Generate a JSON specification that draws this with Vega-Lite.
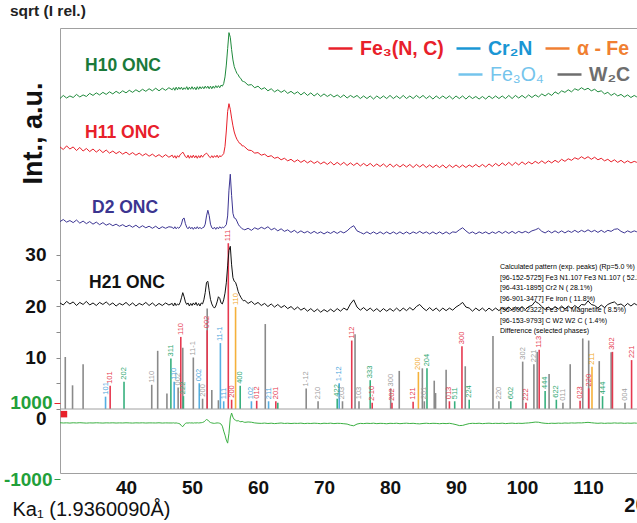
{
  "$schema": "https://vega.github.io/schema/vega-lite/v6.json",
  "width": 577,
  "height": 445,
  "autosize": "none",
  "padding": {"left": 60, "top": 28, "right": 0, "bottom": 50},
  "background": "white",
  "title": {"text": "sqrt (I rel.)", "anchor": "start", "frame": "group", "dx": -50, "offset": 9, "fontSize": 15.5, "fontWeight": "bold", "font": "Liberation Sans", "color": "#222222"},
  "config": {"view": {"stroke": "#a0a0a0", "strokeWidth": 1}, "font": "Liberation Sans"},
  "datasets": {
    "scans": [
      {"t":30,"g":60.3,"r":50.9,"p":36.4,"k":20.6,"d":475},
      {"t":30.5,"g":60.9,"r":50.4,"p":36.8,"k":20.2,"d":468},
      {"t":31,"g":60.4,"r":51.1,"p":36.3,"k":20.9,"d":472},
      {"t":31.5,"g":60.8,"r":50.5,"p":36.6,"k":20.4,"d":466},
      {"t":32,"g":60.5,"r":50.9,"p":36.2,"k":20.8,"d":474},
      {"t":32.5,"g":61.1,"r":50.2,"p":36.7,"k":20.1,"d":469},
      {"t":33,"g":60.6,"r":50.8,"p":36.1,"k":20.7,"d":476},
      {"t":33.5,"g":61.0,"r":50.1,"p":36.5,"k":20.3,"d":470},
      {"t":34,"g":60.7,"r":50.6,"p":36.0,"k":20.9,"d":465},
      {"t":34.5,"g":61.3,"r":50.0,"p":36.4,"k":20.2,"d":471},
      {"t":35,"g":60.9,"r":50.5,"p":35.9,"k":20.6,"d":468},
      {"t":35.5,"g":61.4,"r":49.9,"p":36.3,"k":20.1,"d":474},
      {"t":36,"g":61.0,"r":50.4,"p":35.8,"k":20.7,"d":470},
      {"t":36.5,"g":61.5,"r":49.8,"p":36.2,"k":20.3,"d":466},
      {"t":37,"g":61.1,"r":50.3,"p":35.7,"k":20.8,"d":472},
      {"t":37.5,"g":61.6,"r":49.7,"p":36.0,"k":20.2,"d":469},
      {"t":38,"g":61.2,"r":50.1,"p":35.6,"k":20.6,"d":473},
      {"t":38.5,"g":61.7,"r":49.6,"p":35.9,"k":20.0,"d":467},
      {"t":39,"g":61.3,"r":50.0,"p":35.5,"k":20.5,"d":471},
      {"t":39.5,"g":61.8,"r":49.5,"p":35.8,"k":20.2,"d":468},
      {"t":40,"g":61.4,"r":49.9,"p":35.4,"k":20.7,"d":474},
      {"t":40.5,"g":61.9,"r":49.4,"p":35.7,"k":20.1,"d":470},
      {"t":41,"g":61.5,"r":49.8,"p":35.3,"k":20.6,"d":466},
      {"t":41.5,"g":62.0,"r":49.3,"p":35.7,"k":20.0,"d":472},
      {"t":42,"g":61.6,"r":49.7,"p":35.2,"k":20.5,"d":469},
      {"t":42.5,"g":62.1,"r":49.2,"p":35.6,"k":20.2,"d":473},
      {"t":43,"g":61.7,"r":49.6,"p":35.2,"k":20.7,"d":467},
      {"t":43.5,"g":62.2,"r":49.1,"p":35.5,"k":20.1,"d":471},
      {"t":44,"g":61.8,"r":49.5,"p":35.1,"k":20.6,"d":470},
      {"t":44.5,"g":62.3,"r":49.0,"p":35.5,"k":20.0,"d":468},
      {"t":45,"g":61.8,"r":49.4,"p":35.0,"k":20.5,"d":474},
      {"t":45.5,"g":62.3,"r":48.9,"p":35.4,"k":20.1,"d":466},
      {"t":46,"g":61.9,"r":49.4,"p":35.1,"k":20.6,"d":471},
      {"t":46.5,"g":62.4,"r":48.9,"p":35.4,"k":20.2,"d":469},
      {"t":47,"g":62.0,"r":49.3,"p":35.3,"k":20.5,"d":468},
      {"t":47.2,"g":62.4,"r":48.8,"p":35.0,"k":20.0,"d":472},
      {"t":47.4,"g":61.9,"r":49.2,"p":35.4,"k":20.6,"d":465},
      {"t":47.6,"g":62.5,"r":48.7,"p":35.0,"k":20.1,"d":470},
      {"t":47.8,"g":62.0,"r":49.2,"p":35.3,"k":20.4,"d":462},
      {"t":48,"g":62.5,"r":48.9,"p":35.1,"k":20.2,"d":455},
      {"t":48.2,"g":62.1,"r":49.4,"p":35.4,"k":20.7,"d":440},
      {"t":48.4,"g":62.5,"r":49.6,"p":35.9,"k":21.6,"d":395},
      {"t":48.6,"g":62.0,"r":49.9,"p":36.9,"k":22.6,"d":372},
      {"t":48.8,"g":62.4,"r":49.5,"p":37.1,"k":21.8,"d":418},
      {"t":49,"g":62.1,"r":49.0,"p":36.0,"k":20.8,"d":458},
      {"t":49.2,"g":62.6,"r":48.8,"p":35.3,"k":20.3,"d":470},
      {"t":49.4,"g":62.0,"r":49.3,"p":35.0,"k":20.6,"d":466},
      {"t":49.6,"g":62.5,"r":48.7,"p":35.4,"k":20.0,"d":473},
      {"t":49.8,"g":62.1,"r":49.2,"p":35.0,"k":20.5,"d":468},
      {"t":50,"g":62.6,"r":48.8,"p":35.3,"k":20.1,"d":471},
      {"t":50.2,"g":62.1,"r":49.3,"p":34.9,"k":20.6,"d":465},
      {"t":50.4,"g":62.5,"r":48.8,"p":35.3,"k":20.2,"d":472},
      {"t":50.6,"g":62.0,"r":49.2,"p":35.0,"k":20.7,"d":468},
      {"t":50.8,"g":62.6,"r":48.7,"p":35.4,"k":20.1,"d":474},
      {"t":51,"g":62.1,"r":49.2,"p":35.0,"k":20.5,"d":469},
      {"t":51.2,"g":62.6,"r":48.8,"p":35.3,"k":20.0,"d":472},
      {"t":51.4,"g":62.2,"r":49.3,"p":35.0,"k":20.6,"d":476},
      {"t":51.6,"g":62.6,"r":48.9,"p":35.2,"k":20.4,"d":482},
      {"t":51.8,"g":62.2,"r":49.3,"p":35.3,"k":21.2,"d":495},
      {"t":52,"g":62.7,"r":49.5,"p":35.9,"k":22.6,"d":530},
      {"t":52.2,"g":62.3,"r":49.7,"p":37.5,"k":24.6,"d":560},
      {"t":52.4,"g":62.7,"r":49.4,"p":38.6,"k":24.8,"d":545},
      {"t":52.6,"g":62.2,"r":49.0,"p":37.6,"k":23.0,"d":505},
      {"t":52.8,"g":62.7,"r":48.8,"p":35.9,"k":21.3,"d":480},
      {"t":53,"g":62.2,"r":49.2,"p":35.2,"k":20.4,"d":470},
      {"t":53.2,"g":62.7,"r":48.8,"p":35.0,"k":19.9,"d":462},
      {"t":53.4,"g":62.3,"r":49.2,"p":35.3,"k":19.6,"d":458},
      {"t":53.6,"g":62.8,"r":48.9,"p":34.9,"k":20.0,"d":465},
      {"t":53.8,"g":62.4,"r":49.3,"p":35.3,"k":20.8,"d":470},
      {"t":54,"g":62.8,"r":48.8,"p":35.0,"k":21.8,"d":468},
      {"t":54.2,"g":62.4,"r":49.2,"p":35.4,"k":21.5,"d":460},
      {"t":54.4,"g":62.9,"r":49.0,"p":35.1,"k":20.6,"d":440},
      {"t":54.6,"g":62.7,"r":49.3,"p":35.3,"k":20.4,"d":385},
      {"t":54.8,"g":63.2,"r":49.6,"p":35.2,"k":21.2,"d":255},
      {"t":55,"g":64.5,"r":51.0,"p":35.5,"k":22.5,"d":150},
      {"t":55.2,"g":66.8,"r":54.0,"p":35.8,"k":24.5,"d":20},
      {"t":55.4,"g":70.0,"r":57.8,"p":37.5,"k":27.8,"d":-60},
      {"t":55.6,"g":73.1,"r":59.3,"p":42.5,"k":30.8,"d":200},
      {"t":55.8,"g":72.2,"r":58.2,"p":45.6,"k":31.6,"d":600},
      {"t":56,"g":69.8,"r":56.5,"p":41.5,"k":28.0,"d":730},
      {"t":56.2,"g":67.8,"r":55.0,"p":38.0,"k":25.5,"d":620},
      {"t":56.4,"g":66.5,"r":53.8,"p":37.1,"k":24.8,"d":560},
      {"t":56.6,"g":65.8,"r":53.0,"p":37.0,"k":24.6,"d":540},
      {"t":56.8,"g":65.2,"r":52.4,"p":36.5,"k":23.8,"d":520},
      {"t":57,"g":64.9,"r":52.0,"p":35.9,"k":22.8,"d":530},
      {"t":57.2,"g":64.4,"r":51.6,"p":35.5,"k":22.2,"d":510},
      {"t":57.4,"g":64.2,"r":51.5,"p":35.3,"k":21.7,"d":500},
      {"t":57.6,"g":63.7,"r":51.1,"p":35.0,"k":21.3,"d":510},
      {"t":57.8,"g":63.6,"r":51.1,"p":34.9,"k":21.0,"d":495},
      {"t":58,"g":63.5,"r":50.9,"p":34.8,"k":21.1,"d":485},
      {"t":58.5,"g":62.9,"r":50.3,"p":35.1,"k":20.5,"d":495},
      {"t":59,"g":63.0,"r":50.2,"p":34.7,"k":20.9,"d":488},
      {"t":59.5,"g":62.4,"r":49.7,"p":35.2,"k":20.3,"d":470},
      {"t":60,"g":62.7,"r":49.8,"p":34.9,"k":20.7,"d":462},
      {"t":60.5,"g":62.1,"r":49.3,"p":35.3,"k":20.1,"d":458},
      {"t":61,"g":62.4,"r":49.5,"p":35.0,"k":20.5,"d":466},
      {"t":61.5,"g":61.8,"r":49.0,"p":35.4,"k":19.9,"d":455},
      {"t":62,"g":62.2,"r":49.2,"p":34.8,"k":20.4,"d":463},
      {"t":62.5,"g":61.6,"r":48.7,"p":35.1,"k":19.8,"d":452},
      {"t":63,"g":62.0,"r":48.9,"p":34.6,"k":20.3,"d":460},
      {"t":63.5,"g":61.5,"r":48.4,"p":35.0,"k":19.7,"d":468},
      {"t":64,"g":61.9,"r":48.7,"p":34.5,"k":20.1,"d":456},
      {"t":64.5,"g":61.3,"r":48.2,"p":34.8,"k":19.5,"d":462},
      {"t":65,"g":61.7,"r":48.5,"p":34.3,"k":19.9,"d":454},
      {"t":65.5,"g":61.2,"r":48.0,"p":34.7,"k":19.3,"d":461},
      {"t":66,"g":61.6,"r":48.4,"p":34.2,"k":19.8,"d":457},
      {"t":66.5,"g":61.0,"r":47.9,"p":34.6,"k":19.2,"d":465},
      {"t":67,"g":61.5,"r":48.3,"p":34.2,"k":19.6,"d":452},
      {"t":67.5,"g":60.9,"r":47.8,"p":34.5,"k":19.0,"d":460},
      {"t":68,"g":61.4,"r":48.2,"p":34.1,"k":19.5,"d":455},
      {"t":68.5,"g":60.8,"r":47.7,"p":34.5,"k":18.9,"d":463},
      {"t":69,"g":61.3,"r":48.1,"p":34.1,"k":19.4,"d":458},
      {"t":69.5,"g":60.7,"r":47.6,"p":34.4,"k":18.8,"d":450},
      {"t":70,"g":61.2,"r":48.0,"p":34.0,"k":19.3,"d":462},
      {"t":70.5,"g":60.7,"r":47.5,"p":34.4,"k":18.9,"d":456},
      {"t":71,"g":61.1,"r":48.0,"p":34.1,"k":19.4,"d":464},
      {"t":71.5,"g":60.6,"r":47.4,"p":34.5,"k":18.9,"d":452},
      {"t":72,"g":61.0,"r":47.9,"p":34.1,"k":19.5,"d":460},
      {"t":72.5,"g":60.5,"r":47.4,"p":34.5,"k":19.0,"d":457},
      {"t":73,"g":61.0,"r":47.9,"p":34.2,"k":19.6,"d":449},
      {"t":73.5,"g":60.4,"r":47.3,"p":34.6,"k":19.2,"d":440},
      {"t":74,"g":60.9,"r":47.8,"p":35.2,"k":20.4,"d":410},
      {"t":74.5,"g":60.5,"r":47.3,"p":35.6,"k":21.2,"d":395},
      {"t":75,"g":60.9,"r":47.8,"p":34.6,"k":19.8,"d":440},
      {"t":75.5,"g":60.3,"r":47.2,"p":34.3,"k":19.2,"d":458},
      {"t":76,"g":60.8,"r":47.7,"p":34.0,"k":19.7,"d":452},
      {"t":76.5,"g":60.3,"r":47.2,"p":34.4,"k":19.1,"d":461},
      {"t":77,"g":60.8,"r":47.7,"p":34.0,"k":19.6,"d":455},
      {"t":77.5,"g":60.2,"r":47.1,"p":34.4,"k":19.0,"d":463},
      {"t":78,"g":60.8,"r":47.6,"p":34.0,"k":19.5,"d":451},
      {"t":78.5,"g":60.3,"r":47.1,"p":34.4,"k":18.9,"d":459},
      {"t":79,"g":60.8,"r":47.6,"p":34.0,"k":19.5,"d":456},
      {"t":79.5,"g":60.3,"r":47.0,"p":34.4,"k":19.0,"d":448},
      {"t":80,"g":60.9,"r":47.6,"p":34.0,"k":19.5,"d":460},
      {"t":80.5,"g":60.3,"r":47.0,"p":34.4,"k":19.0,"d":455},
      {"t":81,"g":60.8,"r":47.5,"p":34.0,"k":19.6,"d":462},
      {"t":81.5,"g":60.3,"r":47.0,"p":34.4,"k":19.0,"d":450},
      {"t":82,"g":60.9,"r":47.5,"p":34.0,"k":19.6,"d":458},
      {"t":82.5,"g":60.3,"r":47.0,"p":34.4,"k":19.1,"d":463},
      {"t":83,"g":60.8,"r":47.5,"p":34.0,"k":19.7,"d":454},
      {"t":83.5,"g":60.3,"r":46.9,"p":34.4,"k":19.2,"d":460},
      {"t":84,"g":60.9,"r":47.5,"p":34.1,"k":19.9,"d":450},
      {"t":84.5,"g":60.4,"r":47.0,"p":34.5,"k":20.3,"d":445},
      {"t":85,"g":60.9,"r":47.5,"p":34.1,"k":19.6,"d":456},
      {"t":85.5,"g":60.3,"r":46.9,"p":34.4,"k":19.1,"d":462},
      {"t":86,"g":60.8,"r":47.4,"p":34.0,"k":19.7,"d":453},
      {"t":86.5,"g":60.2,"r":46.9,"p":34.4,"k":19.1,"d":460},
      {"t":87,"g":60.8,"r":47.4,"p":34.0,"k":19.6,"d":457},
      {"t":87.5,"g":60.3,"r":46.9,"p":34.4,"k":19.0,"d":449},
      {"t":88,"g":60.8,"r":47.4,"p":34.0,"k":19.6,"d":458},
      {"t":88.5,"g":60.3,"r":46.8,"p":34.4,"k":19.1,"d":452},
      {"t":89,"g":60.8,"r":47.4,"p":34.0,"k":19.6,"d":460},
      {"t":89.5,"g":60.2,"r":46.9,"p":34.4,"k":19.2,"d":445},
      {"t":90,"g":60.8,"r":47.4,"p":34.3,"k":19.8,"d":425},
      {"t":90.5,"g":60.3,"r":46.9,"p":34.8,"k":20.2,"d":400},
      {"t":91,"g":60.8,"r":47.4,"p":35.2,"k":20.7,"d":405},
      {"t":91.5,"g":60.2,"r":46.9,"p":34.6,"k":19.8,"d":430},
      {"t":92,"g":60.8,"r":47.4,"p":34.1,"k":19.6,"d":452},
      {"t":92.5,"g":60.3,"r":47.0,"p":34.4,"k":19.0,"d":460},
      {"t":93,"g":60.7,"r":47.5,"p":34.0,"k":19.6,"d":455},
      {"t":93.5,"g":60.2,"r":47.0,"p":34.4,"k":19.1,"d":462},
      {"t":94,"g":60.7,"r":47.5,"p":34.1,"k":19.6,"d":451},
      {"t":94.5,"g":60.2,"r":47.0,"p":34.4,"k":19.0,"d":458},
      {"t":95,"g":60.8,"r":47.6,"p":34.0,"k":19.6,"d":463},
      {"t":95.5,"g":60.3,"r":47.1,"p":34.4,"k":19.1,"d":454},
      {"t":96,"g":60.8,"r":47.7,"p":34.1,"k":19.6,"d":460},
      {"t":96.5,"g":60.3,"r":47.2,"p":34.5,"k":19.1,"d":456},
      {"t":97,"g":60.8,"r":47.8,"p":34.1,"k":19.7,"d":463},
      {"t":97.5,"g":60.3,"r":47.3,"p":34.5,"k":19.2,"d":452},
      {"t":98,"g":60.9,"r":47.9,"p":34.1,"k":19.8,"d":459},
      {"t":98.5,"g":60.3,"r":47.3,"p":34.5,"k":19.2,"d":464},
      {"t":99,"g":60.9,"r":47.9,"p":34.1,"k":19.8,"d":455},
      {"t":99.5,"g":60.4,"r":47.4,"p":34.5,"k":19.3,"d":461},
      {"t":100,"g":60.9,"r":48.0,"p":34.2,"k":19.9,"d":457},
      {"t":100.5,"g":60.4,"r":47.5,"p":34.5,"k":19.3,"d":465},
      {"t":101,"g":61.0,"r":48.0,"p":34.2,"k":19.9,"d":470},
      {"t":101.5,"g":60.5,"r":47.6,"p":34.6,"k":20.1,"d":480},
      {"t":102,"g":61.0,"r":48.1,"p":34.8,"k":20.9,"d":492},
      {"t":102.5,"g":60.6,"r":47.7,"p":35.1,"k":20.5,"d":488},
      {"t":103,"g":61.2,"r":48.2,"p":34.5,"k":19.9,"d":470},
      {"t":103.5,"g":60.8,"r":47.7,"p":34.2,"k":19.3,"d":460},
      {"t":104,"g":61.3,"r":48.2,"p":34.6,"k":19.8,"d":455},
      {"t":104.5,"g":60.9,"r":47.8,"p":34.2,"k":19.3,"d":462},
      {"t":105,"g":61.6,"r":48.3,"p":34.6,"k":19.9,"d":458},
      {"t":105.5,"g":61.2,"r":47.9,"p":34.2,"k":19.4,"d":465},
      {"t":106,"g":61.8,"r":48.5,"p":34.6,"k":20.0,"d":460},
      {"t":106.5,"g":61.5,"r":48.1,"p":34.2,"k":19.4,"d":468},
      {"t":107,"g":62.0,"r":48.6,"p":34.6,"k":20.0,"d":463},
      {"t":107.5,"g":61.6,"r":48.3,"p":34.3,"k":19.5,"d":470},
      {"t":108,"g":62.2,"r":48.8,"p":34.7,"k":20.1,"d":466},
      {"t":108.5,"g":61.9,"r":48.5,"p":34.3,"k":19.6,"d":472},
      {"t":109,"g":62.4,"r":49.0,"p":34.7,"k":20.3,"d":470},
      {"t":109.5,"g":62.0,"r":48.6,"p":34.4,"k":20.2,"d":478},
      {"t":110,"g":62.3,"r":49.0,"p":34.8,"k":21.0,"d":485},
      {"t":110.5,"g":61.8,"r":48.5,"p":34.4,"k":20.3,"d":475},
      {"t":111,"g":62.1,"r":48.9,"p":34.7,"k":20.1,"d":466},
      {"t":111.5,"g":61.6,"r":48.4,"p":34.3,"k":19.6,"d":460},
      {"t":112,"g":61.8,"r":48.7,"p":34.7,"k":20.2,"d":467},
      {"t":112.5,"g":61.2,"r":48.2,"p":34.3,"k":19.7,"d":458},
      {"t":113,"g":61.5,"r":48.5,"p":34.7,"k":20.3,"d":465},
      {"t":113.5,"g":60.9,"r":48.0,"p":34.5,"k":20.6,"d":462},
      {"t":114,"g":61.3,"r":48.4,"p":34.9,"k":20.8,"d":470},
      {"t":114.5,"g":60.8,"r":47.9,"p":35.0,"k":20.2,"d":463},
      {"t":115,"g":61.1,"r":48.3,"p":34.5,"k":20.4,"d":468},
      {"t":115.5,"g":60.6,"r":47.8,"p":34.2,"k":19.9,"d":459},
      {"t":116,"g":61.0,"r":48.2,"p":34.6,"k":20.5,"d":466},
      {"t":116.5,"g":60.5,"r":47.8,"p":34.3,"k":20.0,"d":461},
      {"t":117,"g":60.9,"r":48.1,"p":34.6,"k":20.5,"d":468},
      {"t":117.4,"g":60.6,"r":47.9,"p":34.4,"k":20.2,"d":463}
    ],
    "sticks": [
      {"phase":"W2C","t":30.8,"h":10.1,"hkl":""},
      {"phase":"W2C","t":31.9,"h":4.6,"hkl":""},
      {"phase":"W2C","t":33.5,"h":8.7,"hkl":""},
      {"phase":"W2C","t":43.9,"h":4.7,"hkl":"110"},
      {"phase":"W2C","t":44.8,"h":11.3,"hkl":""},
      {"phase":"W2C","t":46.2,"h":3.0,"hkl":""},
      {"phase":"W2C","t":47.9,"h":4.2,"hkl":"002"},
      {"phase":"W2C","t":48.6,"h":11.9,"hkl":""},
      {"phase":"W2C","t":50.2,"h":10.0,"hkl":"11-1"},
      {"phase":"W2C","t":51.6,"h":2.0,"hkl":"200"},
      {"phase":"W2C","t":52.3,"h":19.5,"hkl":""},
      {"phase":"W2C","t":53.0,"h":3.7,"hkl":""},
      {"phase":"W2C","t":54.0,"h":1.7,"hkl":""},
      {"phase":"W2C","t":61.1,"h":16.5,"hkl":""},
      {"phase":"W2C","t":67.3,"h":4.0,"hkl":"1-12"},
      {"phase":"W2C","t":69.1,"h":1.5,"hkl":"210"},
      {"phase":"W2C","t":72.8,"h":1.5,"hkl":"203"},
      {"phase":"W2C","t":74.7,"h":14.5,"hkl":""},
      {"phase":"W2C","t":75.3,"h":1.5,"hkl":"103"},
      {"phase":"W2C","t":80.1,"h":4.0,"hkl":"300"},
      {"phase":"W2C","t":81.4,"h":7.4,"hkl":""},
      {"phase":"W2C","t":84.9,"h":7.9,"hkl":""},
      {"phase":"W2C","t":85.2,"h":1.5,"hkl":"201"},
      {"phase":"W2C","t":86.7,"h":5.5,"hkl":""},
      {"phase":"W2C","t":86.9,"h":3.1,"hkl":""},
      {"phase":"W2C","t":88.5,"h":7.6,"hkl":""},
      {"phase":"W2C","t":91.4,"h":8.3,"hkl":""},
      {"phase":"W2C","t":95.6,"h":14.2,"hkl":""},
      {"phase":"W2C","t":96.5,"h":1.5,"hkl":"220"},
      {"phase":"W2C","t":100.1,"h":9.2,"hkl":"302"},
      {"phase":"W2C","t":101.8,"h":8.7,"hkl":"221"},
      {"phase":"W2C","t":102.3,"h":11.1,"hkl":""},
      {"phase":"W2C","t":104.1,"h":6.8,"hkl":""},
      {"phase":"W2C","t":106.2,"h":1.2,"hkl":"011"},
      {"phase":"W2C","t":107.3,"h":8.7,"hkl":""},
      {"phase":"W2C","t":109.2,"h":13.7,"hkl":""},
      {"phase":"W2C","t":110.1,"h":13.3,"hkl":""},
      {"phase":"W2C","t":111.7,"h":9.3,"hkl":""},
      {"phase":"W2C","t":113.5,"h":11.0,"hkl":""},
      {"phase":"W2C","t":115.6,"h":1.2,"hkl":"004"},
      {"phase":"Fe3O4","t":39.7,"h":5.3,"hkl":"202"},
      {"phase":"Fe3O4","t":46.8,"h":9.8,"hkl":"311"},
      {"phase":"Fe3O4","t":48.7,"h":2.5,"hkl":"222"},
      {"phase":"Fe3O4","t":57.3,"h":4.5,"hkl":"400"},
      {"phase":"Fe3O4","t":63.0,"h":1.2,"hkl":""},
      {"phase":"Fe3O4","t":72.0,"h":2.0,"hkl":"422"},
      {"phase":"Fe3O4","t":77.0,"h":5.6,"hkl":"333"},
      {"phase":"Fe3O4","t":85.6,"h":7.9,"hkl":"204"},
      {"phase":"Fe3O4","t":89.8,"h":1.5,"hkl":"511"},
      {"phase":"Fe3O4","t":92.0,"h":1.8,"hkl":"224"},
      {"phase":"Fe3O4","t":98.3,"h":1.5,"hkl":"602"},
      {"phase":"Fe3O4","t":103.5,"h":3.5,"hkl":"444"},
      {"phase":"Fe3O4","t":105.2,"h":1.8,"hkl":"622"},
      {"phase":"Fe3O4","t":112.2,"h":2.5,"hkl":"444"},
      {"phase":"Cr2N","t":36.9,"h":2.4,"hkl":"101"},
      {"phase":"Cr2N","t":47.3,"h":5.3,"hkl":"110"},
      {"phase":"Cr2N","t":51.1,"h":5.0,"hkl":"002"},
      {"phase":"Cr2N","t":54.3,"h":12.8,"hkl":"11-1"},
      {"phase":"Cr2N","t":54.8,"h":1.5,"hkl":"111"},
      {"phase":"Cr2N","t":59.0,"h":1.5,"hkl":"102"},
      {"phase":"Cr2N","t":61.6,"h":1.5,"hkl":"211"},
      {"phase":"Cr2N","t":72.3,"h":5.0,"hkl":"1-12"},
      {"phase":"Fe","t":56.6,"h":19.8,"hkl":"110"},
      {"phase":"Fe","t":84.3,"h":7.2,"hkl":"200"},
      {"phase":"Fe","t":110.6,"h":8.2,"hkl":"211"},
      {"phase":"Fe3N","t":37.6,"h":4.5,"hkl":"101"},
      {"phase":"Fe3N","t":48.3,"h":14.0,"hkl":"110"},
      {"phase":"Fe3N","t":52.3,"h":15.3,"hkl":"002"},
      {"phase":"Fe3N","t":55.5,"h":32.2,"hkl":"111"},
      {"phase":"Fe3N","t":56.0,"h":1.8,"hkl":"200"},
      {"phase":"Fe3N","t":59.8,"h":1.6,"hkl":"012"},
      {"phase":"Fe3N","t":62.7,"h":1.5,"hkl":"201"},
      {"phase":"Fe3N","t":74.2,"h":13.3,"hkl":"112"},
      {"phase":"Fe3N","t":77.3,"h":1.2,"hkl":"2-10"},
      {"phase":"Fe3N","t":80.3,"h":1.2,"hkl":"202"},
      {"phase":"Fe3N","t":83.5,"h":1.4,"hkl":"121"},
      {"phase":"Fe3N","t":89.0,"h":1.5,"hkl":"013"},
      {"phase":"Fe3N","t":90.9,"h":12.2,"hkl":"300"},
      {"phase":"Fe3N","t":100.6,"h":1.2,"hkl":"222"},
      {"phase":"Fe3N","t":102.6,"h":11.5,"hkl":"113"},
      {"phase":"Fe3N","t":108.8,"h":1.6,"hkl":"023"},
      {"phase":"Fe3N","t":110.1,"h":4.0,"hkl":"220"},
      {"phase":"Fe3N","t":113.7,"h":11.1,"hkl":"302"},
      {"phase":"Fe3N","t":116.6,"h":9.5,"hkl":"221"}
    ],
    "tags": [
      {"sample":"H10 ONC","t":33.8,"v":66.6},
      {"sample":"H11 ONC","t":33.8,"v":53.6},
      {"sample":"D2 ONC","t":34.85,"v":39.0},
      {"sample":"H21 ONC","t":34.4,"v":24.5}
    ],
    "phasesTop": [{"name":"Fe₃(N, C)"},{"name":"Cr₂N"},{"name":"α - Fe"}],
    "phasesLow": [{"name":"Fe₃O₄"},{"name":"W₂C"}],
    "report": [
      {"line":"Calculated pattern (exp. peaks) (Rp=5.0 %)"},
      {"line":"[96-152-5725] Fe3 N1.107 Fe3 N1.107 ( 52.2%)"},
      {"line":"[96-431-1895] Cr2 N ( 28.1%)"},
      {"line":"[96-901-3477] Fe iron ( 11.8%)"},
      {"line":"[96-900-2322] Fe3 O4 Magnetite ( 8.5%)"},
      {"line":"[96-153-9793] C W2 W2 C ( 1.4%)"},
      {"line":"Difference (selected phases)"}
    ],
    "single": [{"n": 1}]
  },
  "resolve": {"scale": {"y": "independent", "color": "independent"}},
  "layer": [
    {
      "data": {"name": "sticks"},
      "mark": {"type": "rule", "strokeWidth": 1.6, "clip": true},
      "encoding": {
        "x": {"field": "t", "type": "quantitative",
          "scale": {"domain": [30, 117.42], "nice": false, "zero": false},
          "axis": {"values": [40, 50, 60, 70, 80, 90, 100, 110], "domain": false, "ticks": false, "grid": false,
            "labelFontSize": 19, "labelFontWeight": "bold", "labelColor": "#111111", "labelPadding": 5, "labelFlush": false,
            "title": "Ka₁ (1.9360090Å)", "titleFontSize": 20, "titleFontWeight": "normal", "titleColor": "#111111",
            "titleAnchor": "start", "titleAlign": "left", "titleX": -48, "titleY": 42, "titleBaseline": "alphabetic"}},
        "y": {"field": "h", "type": "quantitative", "scale": {"domain": [0, 74], "range": [381, 0], "nice": false, "zero": false}, "axis": null},
        "y2": {"datum": 0},
        "color": {"field": "phase", "type": "nominal",
          "scale": {"domain": ["Fe3N", "Cr2N", "Fe", "Fe3O4", "W2C"], "range": ["#e63950", "#55aee2", "#f5b13a", "#37b07e", "#8a8a8a"]},
          "legend": null}
      }
    },
    {
      "data": {"name": "sticks"},
      "transform": [{"filter": "datum.hkl != ''"}],
      "mark": {"type": "text", "angle": 270, "align": "left", "baseline": "middle", "dx": 2, "fontSize": 7.5, "clip": true},
      "encoding": {
        "x": {"field": "t", "type": "quantitative"},
        "y": {"field": "h", "type": "quantitative", "scale": {"domain": [0, 74], "range": [381, 0], "nice": false, "zero": false}, "axis": null},
        "text": {"field": "hkl"},
        "color": {"field": "phase", "type": "nominal",
          "scale": {"domain": ["Fe3N", "Cr2N", "Fe", "Fe3O4", "W2C"], "range": ["#e63950", "#4aa6dc", "#f2a92e", "#2fa872", "#a0a0a0"]},
          "legend": null}
      }
    },
    {
      "data": {"name": "scans"},
      "transform": [{"fold": ["g", "r", "p", "k"], "as": ["key", "v"]}],
      "mark": {"type": "line", "strokeWidth": 1, "clip": true},
      "encoding": {
        "x": {"field": "t", "type": "quantitative"},
        "y": {"field": "v", "type": "quantitative",
          "scale": {"domain": [0, 74], "range": [381, 0], "nice": false, "zero": false},
          "axis": {"orient": "left", "values": [0, 5, 10, 15, 20, 25, 30], "labelExpr": "datum.value % 10 === 0 ? datum.label : ''",
            "domain": false, "grid": false, "tickSize": 4, "tickColor": "#8a8a8a",
            "labelFontSize": 19, "labelFontWeight": "bold", "labelColor": "#111111", "labelPadding": 10,
            "labelBaseline": {"condition": {"test": "datum.value === 0", "value": "top"}, "value": "middle"},
            "title": "Int., a.u.", "titleFontSize": 27, "titleFontWeight": "bold", "titleColor": "#111111",
            "titleX": -27, "titleY": 105, "titleAngle": 270, "titleAlign": "center", "titleBaseline": "middle"}},
        "color": {"field": "key", "type": "nominal",
          "scale": {"domain": ["g", "r", "p", "k"], "range": ["#1f8a3c", "#e8202a", "#3c3593", "#111111"]},
          "legend": null}
      }
    },
    {
      "data": {"name": "scans"},
      "mark": {"type": "line", "strokeWidth": 1, "color": "#3cb043", "clip": true},
      "encoding": {
        "x": {"field": "t", "type": "quantitative"},
        "y": {"field": "d", "type": "quantitative",
          "scale": {"domain": [-1000, 1000], "range": [451, 374.7], "nice": false, "zero": false},
          "axis": {"orient": "left", "values": [-1000, 1000], "domain": false, "grid": false, "tickSize": 6,
            "labelExpr": "replace(format(datum.value, 'd'), '−', '-')",
            "tickColor": {"condition": {"test": "datum.value > 0", "value": "#e8202a"}, "value": "#2ea043"},
            "labelFontSize": 19, "labelFontWeight": "bold", "labelColor": "#22a03a", "labelPadding": 2,
            "labelOverlap": false, "title": null}}
      }
    },
    {
      "data": {"name": "single"},
      "mark": {"type": "rule", "color": "#a0a0a0", "strokeWidth": 1},
      "encoding": {
        "y": {"datum": 0, "type": "quantitative", "scale": {"domain": [0, 74], "range": [381, 0], "nice": false, "zero": false}, "axis": null}
      }
    },
    {
      "data": {"name": "single"},
      "mark": {"type": "square", "size": 42, "color": "#e8202a", "filled": true, "opacity": 1},
      "encoding": {
        "x": {"datum": 30.6, "type": "quantitative"},
        "y": {"datum": 700, "type": "quantitative", "scale": {"domain": [-1000, 1000], "range": [451, 374.7], "nice": false, "zero": false}, "axis": null}
      }
    },
    {
      "data": {"name": "tags"},
      "mark": {"type": "text", "align": "left", "baseline": "middle", "fontSize": 17.5, "fontWeight": "bold"},
      "encoding": {
        "x": {"field": "t", "type": "quantitative"},
        "y": {"field": "v", "type": "quantitative", "scale": {"domain": [0, 74], "range": [381, 0], "nice": false, "zero": false}, "axis": null},
        "text": {"field": "sample"},
        "color": {"field": "sample", "type": "nominal",
          "scale": {"domain": ["H10 ONC", "H11 ONC", "D2 ONC", "H21 ONC"], "range": ["#1a7a3a", "#e8202a", "#3b3590", "#111111"]},
          "legend": null}
      }
    },
    {
      "data": {"name": "single"},
      "mark": {"type": "text", "align": "left", "baseline": "middle", "fontSize": 20, "fontWeight": "bold", "color": "#111111"},
      "encoding": {
        "x": {"datum": 115.5, "type": "quantitative"},
        "y": {"datum": -1700, "type": "quantitative", "scale": {"domain": [-1000, 1000], "range": [451, 374.7], "nice": false, "zero": false}, "axis": null},
        "text": {"value": "2θ"}
      }
    },
    {
      "data": {"name": "phasesTop"},
      "mark": {"type": "rule", "clip": true, "strokeWidth": 2.5},
      "encoding": {
        "y": {"datum": -200, "type": "quantitative", "scale": {"domain": [0, 74], "range": [381, 0], "nice": false, "zero": false}, "axis": null},
        "color": {"field": "name", "type": "nominal",
          "scale": {"domain": ["Fe₃(N, C)", "Cr₂N", "α - Fe"], "range": ["#e8202a", "#1a96d4", "#f07f32"]},
          "legend": {"orient": "none", "legendX": 267, "legendY": 7, "direction": "horizontal", "title": null,
            "symbolType": "stroke", "symbolSize": 576, "symbolStrokeWidth": 2.5, "labelFont": "Liberation Sans",
            "labelFontSize": 19.5, "labelFontWeight": "bold", "labelOffset": 6, "columnPadding": 7, "labelLimit": 200,
            "encode": {"labels": {"update": {"fill": {"signal": "datum.value === 'Cr₂N' ? '#1a96d4' : datum.value === 'α - Fe' ? '#f07f32' : '#e8202a'"}}}}}}
      }
    },
    {
      "data": {"name": "phasesLow"},
      "mark": {"type": "rule", "clip": true, "strokeWidth": 2.5},
      "encoding": {
        "y": {"datum": -200, "type": "quantitative", "scale": {"domain": [0, 74], "range": [381, 0], "nice": false, "zero": false}, "axis": null},
        "color": {"field": "name", "type": "nominal",
          "scale": {"domain": ["Fe₃O₄", "W₂C"], "range": ["#74c4ec", "#6e6e6e"]},
          "legend": {"orient": "none", "legendX": 397, "legendY": 33, "direction": "horizontal", "title": null,
            "symbolType": "stroke", "symbolSize": 576, "symbolStrokeWidth": 2.5, "labelFont": "Liberation Sans",
            "labelFontSize": 19.5, "labelFontWeight": "bold", "labelOffset": 6, "columnPadding": 8, "labelLimit": 200,
            "encode": {"labels": {"update": {
              "fill": {"signal": "datum.value === 'W₂C' ? '#6e6e6e' : '#74c4ec'"},
              "fontWeight": {"signal": "datum.value === 'W₂C' ? 'bold' : 'normal'"}}}}}}
      }
    },
    {
      "data": {"name": "report"},
      "mark": {"type": "point", "opacity": 0, "size": 0},
      "encoding": {
        "color": {"field": "line", "type": "nominal",
          "scale": {"domain": [
            "Calculated pattern (exp. peaks) (Rp=5.0 %)",
            "[96-152-5725] Fe3 N1.107 Fe3 N1.107 ( 52.2%)",
            "[96-431-1895] Cr2 N ( 28.1%)",
            "[96-901-3477] Fe iron ( 11.8%)",
            "[96-900-2322] Fe3 O4 Magnetite ( 8.5%)",
            "[96-153-9793] C W2 W2 C ( 1.4%)",
            "Difference (selected phases)"],
            "range": ["#e8202a", "#e8202a", "#4fb0e6", "#f5ab2e", "#2fae7a", "#a8a8a8", "#2e9e2e"]},
          "legend": {"orient": "none", "legendX": 433, "legendY": 235.5, "direction": "vertical", "title": null,
            "symbolSize": 0, "symbolOpacity": 0, "symbolStrokeWidth": 0, "labelOffset": 0, "labelFont": "Liberation Sans",
            "labelFontSize": 7, "rowPadding": 2.7, "labelLimit": 400,
            "encode": {"labels": {"update": {"fill": {"signal": "indexof(datum.value, 'Cr2 N') >= 0 ? '#4fb0e6' : indexof(datum.value, 'Fe iron') >= 0 ? '#f5ab2e' : indexof(datum.value, 'Magnetite') >= 0 ? '#2fae7a' : indexof(datum.value, 'W2 C') >= 0 ? '#a8a8a8' : indexof(datum.value, 'Difference') >= 0 ? '#2e9e2e' : '#e8202a'"}}}}}}
      }
    }
  ]
}
